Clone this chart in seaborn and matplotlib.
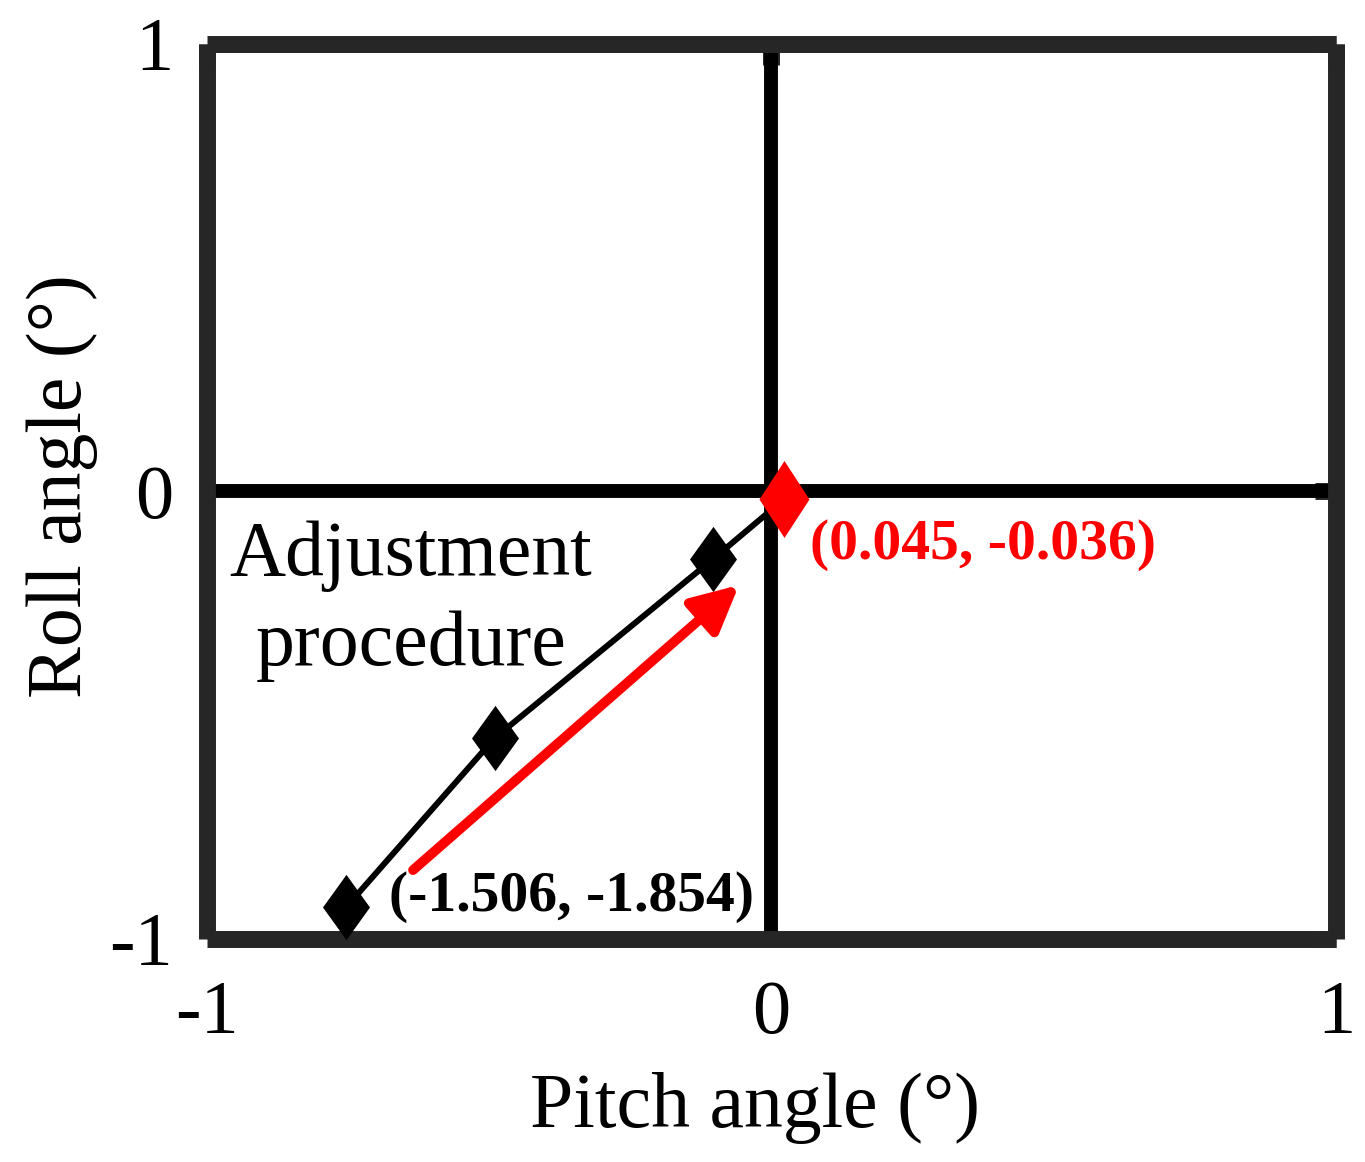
import matplotlib
matplotlib.use('Agg')
import matplotlib.pyplot as plt
import seaborn as sns

# adjustment path, in the chart's axis units (last point = final state)
pitch = [-0.753, -0.490, -0.1035, 0.0225]
roll = [-0.930, -0.552, -0.152, -0.018]
start_label = '(-1.506, -1.854)'
end_label = '(0.045, -0.036)'
ticks = [-1, 0, 1]
tick_labels = ['-1', '0', '1']

# red arrow showing direction of the procedure
arrow_from = (-0.6345, -0.847)
arrow_to = (-0.0575, -0.210)

sns.set_style('white')
plt.rcParams['font.family'] = ['Liberation Serif', 'DejaVu Serif']
plt.rcParams['axes.unicode_minus'] = False
plt.rcParams['text.color'] = 'black'
plt.rcParams['axes.labelcolor'] = 'black'

frame = '#262626'

fig = plt.figure(figsize=(13.65, 11.62), dpi=100)
ax = fig.add_axes([0.1513, 0.1923, 0.8278, 0.7702])

# cross through the origin
ax.axhline(0, color='black', lw=10, zorder=1)
ax.axvline(0, color='black', lw=10, zorder=1)

sns.lineplot(x=pitch, y=roll, sort=False, color='black', lw=4.3, ax=ax, zorder=2)

diamond_k = [(0, 1), (0.72, 0), (0, -1), (-0.72, 0), (0, 1)]
diamond_r = [(0, 1), (0.65, 0), (0, -1), (-0.65, 0), (0, 1)]
sns.scatterplot(x=pitch[:-1], y=roll[:-1], marker=diamond_k, s=47**2,
                color='black', linewidth=0, ax=ax, zorder=3)
sns.scatterplot(x=pitch[-1:], y=roll[-1:], marker=diamond_r, s=55.4**2,
                color='red', linewidth=0, ax=ax, zorder=4)

ax.annotate('', xy=arrow_to, xytext=arrow_from,
            arrowprops=dict(arrowstyle='-|>,head_length=1.4,head_width=0.7',
                            mutation_scale=20, color='red', lw=7,
                            shrinkA=0, shrinkB=0), zorder=3)

ax.text(-0.638, -0.065, 'Adjustment\nprocedure', ha='center', va='top',
        fontsize=56, linespacing=1.34, color='black')
ax.text(0.068, -0.152, end_label, color='red', fontsize=41.5, fontweight='bold',
        ha='left', va='baseline')
ax.text(-0.677, -0.9385, start_label, color='black', fontsize=41.5,
        fontweight='bold', ha='left', va='baseline')

ax.set_xlim(-1, 1)
ax.set_ylim(-1, 1)
ax.set_xticks(ticks, labels=tick_labels)
ax.set_yticks(ticks, labels=tick_labels)
ax.tick_params(direction='in', length=14.8, width=12.2, color=frame,
               labelcolor='black', labelsize=55, top=True, right=True)
ax.tick_params(axis='x', pad=30)
ax.tick_params(axis='y', pad=24)
for s in ax.spines.values():
    s.set_linewidth(12.2)
    s.set_color(frame)
    s.set_capstyle('butt')
    s.set_visible(True)

ax.set_xlabel('Pitch angle (°)', fontsize=56, color='black')
ax.set_ylabel('Roll angle (°)', fontsize=56, color='black')
ax.xaxis.set_label_coords(0.485, -0.149)
ax.yaxis.set_label_coords(-0.096, 0.5056)

fig.savefig('out.png', dpi=100)
